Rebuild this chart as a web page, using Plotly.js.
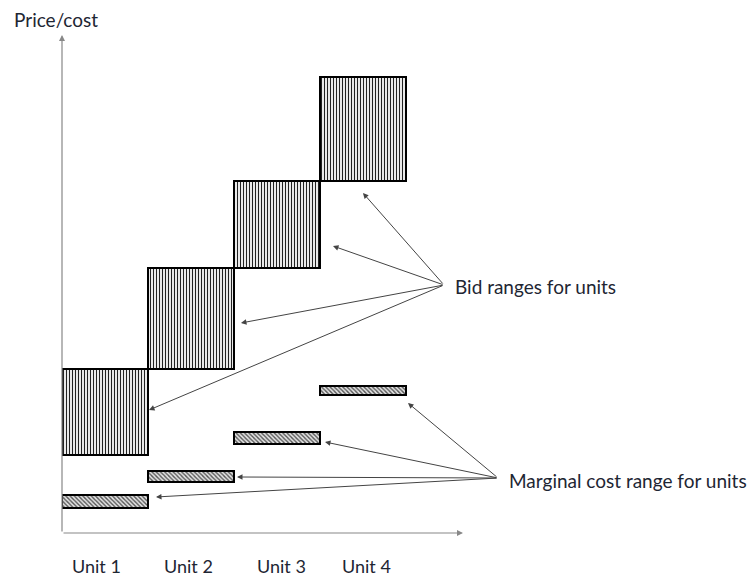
<!DOCTYPE html>
<html>
<head>
<meta charset="utf-8">
<script src="https://cdn.plot.ly/plotly-3.0.1.min.js"></script>
<style>html,body{margin:0;padding:0;background:#fff;}#chart{width:751px;height:578px;}</style>
</head>
<body>
<div id="chart"></div>
<script>
// ---- data ----
const units = ["Unit 1", "Unit 2", "Unit 3", "Unit 4"];
const bidLow = [7.8, 16.4, 26.5, 35.2];
const bidHigh = [16.4, 26.5, 35.2, 45.6];
const costLow = [2.5, 5.1, 8.9, 13.8];
const costHigh = [3.8, 6.2, 10.1, 14.7];
const bidLabel = "Bid ranges for units";
const costLabel = "Marginal cost range for units";
const yTitle = "Price/cost";

// ---- layout helpers ----
const xc = units.map((u, i) => i + 0.5);
const FONT = "Lato, 'Open Sans', sans-serif";
const TXT = "#1e2633";
const FS = 19;

const bidTrace = {
  type: "bar", x: xc, base: bidLow, y: bidHigh.map((h, i) => h - bidLow[i]),
  width: 1, hoverinfo: "skip", showlegend: false,
  marker: {
    color: "white",
    line: {color: "#000", width: 2},
    pattern: {shape: "|", fgcolor: "#222", bgcolor: "white", size: 3, solidity: 0.4}
  }
};
const costTrace = {
  type: "bar", x: xc, base: costLow, y: costHigh.map((h, i) => h - costLow[i]),
  width: 1, hoverinfo: "skip", showlegend: false,
  marker: {
    color: "#ddd",
    line: {color: "#000", width: 2},
    pattern: {shape: "\\", fgcolor: "#555", bgcolor: "#e4e4e4", size: 3, solidity: 0.45}
  }
};

const ann = [];
// axes arrows
ann.push({x: 0, y: 49.8, ax: 0, ay: 0, axref: "x", ayref: "y", xref: "x", yref: "y",
  showarrow: true, arrowhead: 2, arrowsize: 1, arrowwidth: 1.2, arrowcolor: "#888", text: ""});
ann.push({x: 4.663, y: 0, ax: 0, ay: 0, axref: "x", ayref: "y", xref: "x", yref: "y",
  showarrow: true, arrowhead: 2, arrowsize: 1, arrowwidth: 1.2, arrowcolor: "#888", text: ""});
// y title
ann.push({x: -0.0726, y: 0.9625, xref: "paper", yref: "paper", xanchor: "left", yanchor: "middle",
  text: yTitle, showarrow: false, font: {family: FONT, size: FS, color: TXT}});
// unit labels
const labelShift = [-9, -3, 4, 3];
units.forEach((u, i) => ann.push({x: xc[i], y: -0.084, xref: "x", yref: "paper", xshift: labelShift[i],
  yanchor: "bottom", borderpad: 0, text: u, showarrow: false, font: {family: FONT, size: 18, color: TXT}}));
// callout labels
ann.push({x: 4.547, y: 24.7, xref: "x", yref: "y", xanchor: "left", yanchor: "middle",
  text: bidLabel, showarrow: false, font: {family: FONT, size: FS, color: TXT}});
ann.push({x: 5.174, y: 5.3, xref: "x", yref: "y", xanchor: "left", yanchor: "middle",
  text: costLabel, showarrow: false, font: {family: FONT, size: FS, color: TXT}});
// callout arrows
const bidOrigin = [4.442, 24.8];
const bidTips = [[3.50, 34.0], [3.151, 28.7], [2.081, 21.0], [1.012, 12.3]];
const costOrigin = [5.07, 5.5];
const costTips = [[4.023, 13.0], [3.058, 9.1], [2.035, 5.6], [1.093, 3.6]];
function arrows(o, tips) {
  tips.forEach(t => ann.push({x: t[0], y: t[1], ax: o[0], ay: o[1], axref: "x", ayref: "y",
    xref: "x", yref: "y", showarrow: true, arrowhead: 2, arrowsize: 1.1, arrowwidth: 1,
    arrowcolor: "#444", text: ""}));
}
arrows(bidOrigin, bidTips);
arrows(costOrigin, costTips);

const layout = {
  width: 751, height: 578,
  margin: {l: 62, r: 0, t: 0, b: 45},
  paper_bgcolor: "white", plot_bgcolor: "white",
  barmode: "overlay", bargap: 0,
  xaxis: {range: [0, 689 / 86], visible: false, fixedrange: true},
  yaxis: {range: [0, 53.3], visible: false, fixedrange: true},
  annotations: ann,
  showlegend: false
};

Plotly.newPlot("chart", [bidTrace, costTrace], layout, {displayModeBar: false, staticPlot: true});
</script>
</body>
</html>
